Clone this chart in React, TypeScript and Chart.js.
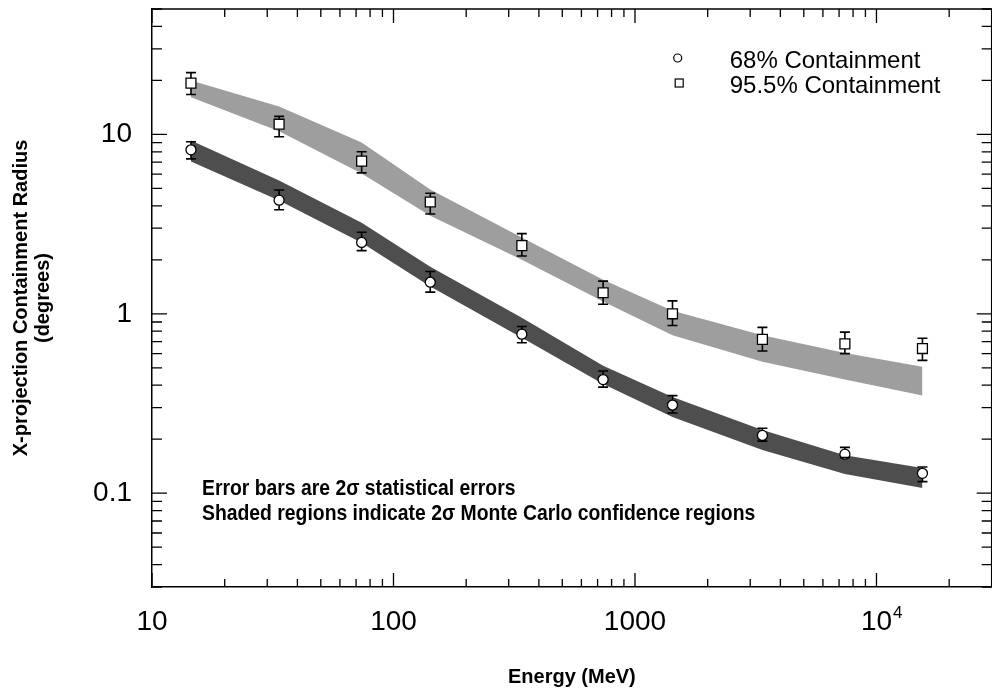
import React, { useEffect, useRef } from "react";
import { Chart, registerables } from "chart.js";

Chart.register(...registerables);

// ---- data ----
const energies = [14.5, 33.6, 73.8, 142, 340, 738, 1430, 3370, 7400, 15500];

const r68 = [8.2, 4.3, 2.5, 1.5, 0.77, 0.43, 0.31, 0.21, 0.165, 0.129];
const r68Hi = [9.1, 4.9, 2.85, 1.72, 0.85, 0.48, 0.35, 0.23, 0.18, 0.14];
const r68Lo = [7.3, 3.8, 2.25, 1.32, 0.69, 0.39, 0.28, 0.195, 0.158, 0.116];

const r955 = [19.3, 11.4, 7.1, 4.2, 2.4, 1.31, 1.0, 0.72, 0.68, 0.64];
const r955Hi = [22.1, 12.6, 8.0, 4.7, 2.8, 1.52, 1.18, 0.84, 0.79, 0.73];
const r955Lo = [16.7, 9.7, 6.1, 3.6, 2.1, 1.13, 0.86, 0.62, 0.6, 0.55];

const band68Top = [9.25, 5.53, 3.22, 1.83, 0.95, 0.513, 0.344, 0.225, 0.163, 0.138];
const band68Bot = [7.06, 4.28, 2.49, 1.42, 0.735, 0.406, 0.266, 0.174, 0.128, 0.107];
const band955Top = [20.0, 14.3, 9.0, 4.93, 2.66, 1.55, 1.04, 0.76, 0.605, 0.506];
const band955Bot = [16.1, 10.4, 6.05, 3.52, 2.0, 1.17, 0.76, 0.54, 0.43, 0.35];

const xMajor = [10, 100, 1000, 10000];
const xMajorLabels = ["10", "100", "1000", "10"];
const xMajorSup = ["", "", "", "4"];
const yMajor = [0.1, 1, 10];
const yMajorLabels = ["0.1", "1", "10"];
const minorMultipliers = [2, 3, 4, 5, 6, 7, 8, 9];
const xRange = [10, 30000];
const yRange = [0.03, 50];

const legendLabels = ["68% Containment", "95.5% Containment"];
const noteLines = [
  "Error bars are 2\u03c3 statistical errors",
  "Shaded regions indicate 2\u03c3 Monte Carlo confidence regions",
];
const xTitle = "Energy (MeV)";
const yTitle = ["X-projection Containment Radius", "(degrees)"];

const FONT = "'Liberation Sans', Arial, Helvetica, sans-serif";
const TICK_SIZE = 28;

function buildTicks(min: number, max: number) {
  const out: number[] = [];
  const d0 = Math.floor(Math.log10(min));
  const d1 = Math.ceil(Math.log10(max));
  for (let d = d0; d <= d1; d++) {
    const base = Math.pow(10, d);
    for (const m of [1, ...minorMultipliers]) {
      const v = +(m * base).toPrecision(6);
      if (v >= min * 0.9999 && v <= max * 1.0001) out.push(v);
    }
  }
  return out;
}

function isMajor(v: number) {
  const l = Math.log10(v);
  return Math.abs(l - Math.round(l)) < 1e-6;
}

function majorIndex(v: number, majors: number[]) {
  for (let i = 0; i < majors.length; i++) {
    if (Math.abs(v - majors[i]) / majors[i] < 1e-6) return i;
  }
  return -1;
}

const framePlugin = {
  id: "framePlugin",
  afterDatasetsDraw(chart: any) {
    const { ctx, chartArea } = chart;
    const { left, right, top, bottom } = chartArea;
    const xs = chart.scales.x;
    const ys = chart.scales.y;
    ctx.save();
    ctx.strokeStyle = "#000";
    ctx.fillStyle = "#000";
    ctx.lineWidth = 1.5;

    // top and right frame
    ctx.beginPath();
    ctx.moveTo(left, top);
    ctx.lineTo(right, top);
    ctx.lineTo(right, bottom);
    ctx.stroke();

    // inward ticks
    ctx.lineWidth = 1.3;
    xs.ticks.forEach((t: any) => {
      const px = xs.getPixelForValue(t.value);
      const L = isMajor(t.value) ? 14 : 8;
      ctx.beginPath();
      ctx.moveTo(px, bottom);
      ctx.lineTo(px, bottom - L);
      ctx.moveTo(px, top);
      ctx.lineTo(px, top + L);
      ctx.stroke();
    });
    ys.ticks.forEach((t: any) => {
      const py = ys.getPixelForValue(t.value);
      const L = isMajor(t.value) ? 15 : 10;
      ctx.beginPath();
      ctx.moveTo(left, py);
      ctx.lineTo(left + L, py);
      ctx.moveTo(right, py);
      ctx.lineTo(right - L, py);
      ctx.stroke();
    });

    // superscripts on x tick labels
    xMajor.forEach((v, i) => {
      if (!xMajorSup[i]) return;
      const px = xs.getPixelForValue(v);
      ctx.font = `${TICK_SIZE}px ${FONT}`;
      const w = ctx.measureText(xMajorLabels[i]).width;
      ctx.font = `${Math.round(TICK_SIZE * 0.62)}px ${FONT}`;
      ctx.textAlign = "left";
      ctx.textBaseline = "alphabetic";
      ctx.fillText(xMajorSup[i], px + w / 2 + 1, bottom + 31);
    });

    // error bars (segments outside the markers)
    const drawErr = (vals: number[], lo: number[], hi: number[], half: number) => {
      ctx.lineWidth = 1.6;
      for (let i = 0; i < energies.length; i++) {
        const px = xs.getPixelForValue(energies[i]);
        const pv = ys.getPixelForValue(vals[i]);
        const ph = ys.getPixelForValue(hi[i]);
        const pl = ys.getPixelForValue(lo[i]);
        ctx.beginPath();
        if (pv - half > ph) {
          ctx.moveTo(px, ph);
          ctx.lineTo(px, pv - half);
        }
        if (pv + half < pl) {
          ctx.moveTo(px, pv + half);
          ctx.lineTo(px, pl);
        }
        ctx.moveTo(px - 5, ph);
        ctx.lineTo(px + 5, ph);
        ctx.moveTo(px - 5, pl);
        ctx.lineTo(px + 5, pl);
        ctx.stroke();
      }
    };
    drawErr(r68, r68Lo, r68Hi, 5);
    drawErr(r955, r955Lo, r955Hi, 5);

    // legend
    const lx = right - 314;
    const ly = top + 49;
    ctx.lineWidth = 1.2;
    ctx.beginPath();
    ctx.arc(lx, ly, 4, 0, Math.PI * 2);
    ctx.stroke();
    ctx.strokeRect(lx - 2.5, ly + 21, 8, 8);
    ctx.font = `24px ${FONT}`;
    ctx.textBaseline = "alphabetic";
    ctx.textAlign = "left";
    ctx.fillText(legendLabels[0], lx + 52, top + 59);
    ctx.fillText(legendLabels[1], lx + 52, top + 84);

    // notes
    ctx.font = `bold 22px ${FONT}`;
    noteLines.forEach((s, i) => {
      ctx.save();
      ctx.translate(left + 50, top + 486 + i * 25);
      ctx.scale(0.88, 1);
      ctx.fillText(s, 0, 0);
      ctx.restore();
    });
    ctx.restore();
  },
};

export default function App() {
  const ref = useRef<HTMLCanvasElement | null>(null);
  useEffect(() => {
    if (!ref.current) return;
    const pt = (arr: number[]) => energies.map((e, i) => ({ x: e, y: arr[i] }));
    const band = (arr: number[], color: string, fill: any) => ({
      data: pt(arr),
      showLine: true,
      pointRadius: 0,
      borderWidth: 0,
      borderColor: "rgba(0,0,0,0)",
      backgroundColor: color,
      fill,
      tension: 0,
    });
    const chart = new Chart(ref.current, {
      type: "scatter",
      data: {
        datasets: [
          {
            label: legendLabels[0],
            data: pt(r68),
            pointStyle: "circle",
            pointRadius: 5,
            borderColor: "#000",
            backgroundColor: "#fff",
            borderWidth: 1.3,
            showLine: false,
          },
          {
            label: legendLabels[1],
            data: pt(r955),
            pointStyle: "rect",
            pointRadius: 7,
            borderColor: "#000",
            backgroundColor: "#fff",
            borderWidth: 1.3,
            showLine: false,
          },
          { label: "band68top", ...band(band68Top, "#4e4e4e", false) },
          { label: "band68bot", ...band(band68Bot, "#4e4e4e", "-1") },
          { label: "band955top", ...band(band955Top, "#9e9e9e", false) },
          { label: "band955bot", ...band(band955Bot, "#9e9e9e", "-1") },
        ],
      },
      options: {
        animation: false,
        responsive: false,
        maintainAspectRatio: false,
        layout: { padding: { top: 9, right: 3, bottom: 0, left: 0 } },
        plugins: {
          legend: { display: false },
          tooltip: { enabled: false },
        },
        scales: {
          x: {
            type: "logarithmic",
            min: xRange[0],
            max: xRange[1],
            afterBuildTicks: (s: any) => {
              s.ticks = buildTicks(xRange[0], xRange[1]).map((v) => ({ value: v }));
            },
            afterFit: (s: any) => {
              s.height = 106;
              s.paddingLeft = 0;
              s.paddingRight = 0;
            },
            grid: { display: false, drawTicks: false },
            border: { display: true, color: "#000", width: 1.5 },
            ticks: {
              autoSkip: false,
              maxRotation: 0,
              minRotation: 0,
              padding: 18,
              color: "#000",
              font: { family: FONT, size: TICK_SIZE, lineHeight: 1.2 },
              callback: (v: any) => {
                const i = majorIndex(Number(v), xMajor);
                return i >= 0 ? xMajorLabels[i] : "";
              },
            },
            title: {
              display: true,
              text: xTitle,
              color: "#000",
              font: { family: FONT, size: 20, weight: "bold", lineHeight: 1.2 },
              padding: { top: 0, bottom: 4 },
            },
          },
          y: {
            type: "logarithmic",
            min: yRange[0],
            max: yRange[1],
            afterBuildTicks: (s: any) => {
              s.ticks = buildTicks(yRange[0], yRange[1]).map((v) => ({ value: v }));
            },
            afterFit: (s: any) => {
              s.width = 152;
              s.paddingTop = 0;
              s.paddingBottom = 0;
            },
            grid: { display: false, drawTicks: false },
            border: { display: true, color: "#000", width: 1.5 },
            ticks: {
              autoSkip: false,
              padding: 20,
              color: "#000",
              font: { family: FONT, size: TICK_SIZE, lineHeight: 1.2 },
              callback: (v: any) => {
                const i = majorIndex(Number(v), yMajor);
                return i >= 0 ? yMajorLabels[i] : "";
              },
            },
            title: {
              display: true,
              text: yTitle,
              color: "#000",
              font: { family: FONT, size: 20, weight: "bold", lineHeight: 1.1 },
              padding: { top: 10, bottom: 0 },
            },
          },
        },
      },
      plugins: [framePlugin],
    } as any);
    return () => chart.destroy();
  }, []);

  return (
    <div
      style={{
        position: "fixed",
        left: 0,
        top: 0,
        width: 992,
        height: 693,
        overflow: "hidden",
        background: "#fff",
      }}
    >
      <canvas ref={ref} width={1000} height={693} style={{ width: 1000, height: 693, display: "block" }} />
    </div>
  );
}
